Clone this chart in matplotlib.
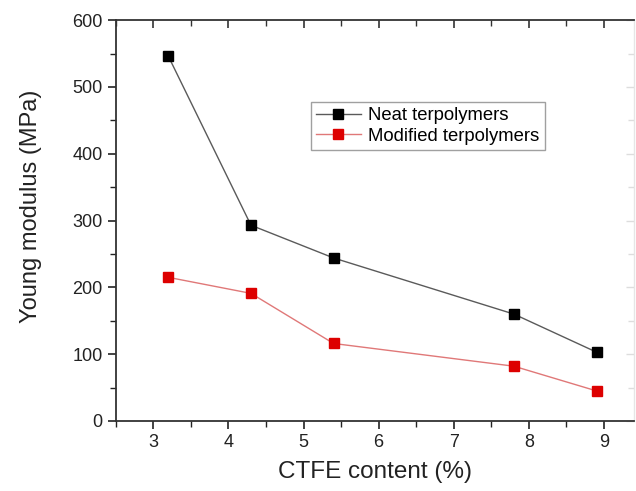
import matplotlib
matplotlib.use("Agg")
import matplotlib.pyplot as plt
from matplotlib.ticker import MultipleLocator

plt.rcParams['font.family'] = ['Liberation Sans', 'DejaVu Sans']

ctfe = [3.2, 4.3, 5.4, 7.8, 8.9]
neat = [546, 293, 244, 160, 103]
modified = [215, 191, 116, 82, 45]
series_labels = ["Neat terpolymers", "Modified terpolymers"]

fig = plt.figure(figsize=(6.36, 4.91), dpi=100)
ax = fig.add_axes([0.182, 0.1426, 0.815, 0.8164])

ax.plot(ctfe, neat, color='#5a5a5a', lw=1.0, marker='s', ms=6.5,
        mfc='black', mec='black', label=series_labels[0])
ax.plot(ctfe, modified, color='#e07878', lw=1.0, marker='s', ms=6.5,
        mfc='#dd0000', mec='#dd0000', label=series_labels[1])

ax.set_xlim(2.5, 9.4)
ax.set_ylim(0, 600)
ax.xaxis.set_major_locator(MultipleLocator(1))
ax.xaxis.set_minor_locator(MultipleLocator(0.5))
ax.yaxis.set_major_locator(MultipleLocator(100))
ax.yaxis.set_minor_locator(MultipleLocator(50))

# bottom/left ticks point outward
ax.tick_params(axis='both', which='both', direction='out', top=False, right=False,
               labelsize=13, colors='#222222')
ax.tick_params(which='major', length=6, width=1.2)
ax.tick_params(which='minor', length=4, width=1.0)

# mirrored ticks on the top and right point inward
sec_x = ax.secondary_xaxis('top')
sec_x.xaxis.set_major_locator(MultipleLocator(1))
sec_x.xaxis.set_minor_locator(MultipleLocator(0.5))
sec_x.tick_params(which='both', direction='in', labeltop=False, colors='#333333')
sec_x.tick_params(which='major', length=6, width=1.2)
sec_x.tick_params(which='minor', length=4, width=1.0)
sec_x.spines['top'].set_visible(False)

sec_y = ax.secondary_yaxis('right')
sec_y.yaxis.set_major_locator(MultipleLocator(100))
sec_y.yaxis.set_minor_locator(MultipleLocator(50))
sec_y.tick_params(which='both', direction='in', labelright=False, colors='#dddddd')
sec_y.tick_params(which='major', length=6, width=1.0)
sec_y.tick_params(which='minor', length=4, width=1.0)
sec_y.spines['right'].set_visible(False)

for side in ['left', 'bottom', 'top']:
    ax.spines[side].set_color('#333333')
    ax.spines[side].set_linewidth(1.3)
ax.spines['right'].set_color('#e6e6e6')
ax.spines['right'].set_linewidth(1.0)

ax.set_xlabel("CTFE content (%)", fontsize=17.5, color='#222222', labelpad=7)
ax.set_ylabel("Young modulus (MPa)", fontsize=17, color='#222222', labelpad=22)
ax.yaxis.label.set_y(0.536)

leg = ax.legend(loc='upper left', bbox_to_anchor=(0.376, 0.797), fontsize=13.3,
                frameon=True, fancybox=False, edgecolor='#888888',
                handlelength=2.4, handletextpad=0.4, borderpad=0.3,
                labelspacing=0.2, borderaxespad=0)
leg.get_frame().set_linewidth(1.0)

fig.savefig("out.png", dpi=100)
